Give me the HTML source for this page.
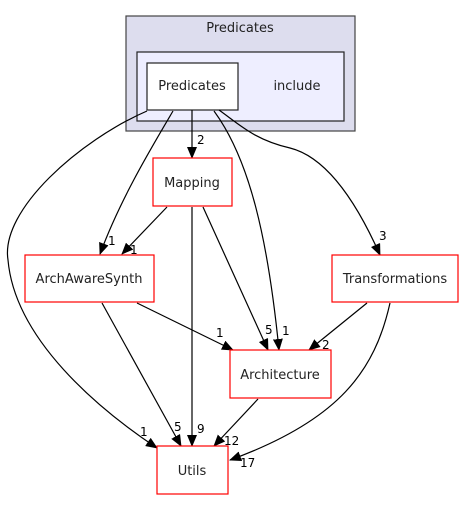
<!DOCTYPE html>
<html><head><meta charset="utf-8"><style>
html,body{margin:0;padding:0;background:#fff;}
text{font-family:"DejaVu Sans","Liberation Sans",sans-serif;}
</style></head><body>
<svg width="464" height="500" viewBox="0 0 464 500" xmlns="http://www.w3.org/2000/svg">
<defs><marker id="a" markerWidth="12" markerHeight="10" refX="11" refY="5" orient="auto" markerUnits="userSpaceOnUse"><path d="M0,0 L12,5 L0,10 z" fill="#000"/></marker></defs>
<rect x="126" y="16" width="229" height="115" fill="#ddddee" stroke="#444" stroke-width="1.2"/>
<text x="240" y="32" font-size="13" text-anchor="middle" fill="#222">Predicates</text>
<rect x="137" y="52" width="207" height="69" fill="#eeeeff" stroke="#222" stroke-width="1.2"/>
<text x="297" y="90" font-size="13" text-anchor="middle" fill="#222">include</text>
<rect x="147" y="63" width="91" height="47" fill="#fff" stroke="#222" stroke-width="1.2"/>
<text x="192" y="90" font-size="13" text-anchor="middle" fill="#222">Predicates</text>

<g fill="none" stroke="#000" stroke-width="1.2" marker-end="url(#a)">
<path d="M192,110 L192,158"/>
<path d="M173,111 C150,150 120,200 100,254"/>
<path d="M167,207 L122,254"/>
<path d="M147,111 C80,140 0,210 8,260 C15,340 100,410 157,448"/>
<path d="M214,111 C250,160 268,240 279,350"/>
<path d="M219,110 C240,125 255,140 290,148 C330,158 360,210 380,255"/>
<path d="M203,207 L268,350"/>
<path d="M192,207 L192,446"/>
<path d="M137,303 L233,350"/>
<path d="M102,303 L181,446"/>
<path d="M367,303 L309,350"/>
<path d="M390,303 C375,370 340,420 230,460"/>
<path d="M258,399 L214,446"/>
</g>

<g font-size="12" fill="#000">
<text x="197" y="144">2</text>
<text x="108" y="245">1</text>
<text x="130" y="254">1</text>
<text x="140" y="436">1</text>
<text x="282" y="335">1</text>
<text x="379" y="240">3</text>
<text x="265" y="334">5</text>
<text x="197" y="433">9</text>
<text x="216" y="337">1</text>
<text x="174" y="431">5</text>
<text x="322" y="349">2</text>
<text x="240" y="467">17</text>
<text x="224" y="445">12</text>
</g>

<g fill="#fff" stroke="#ff0000" stroke-width="1.2">
<rect x="153" y="158" width="79" height="48"/>
<rect x="25" y="255" width="129" height="47"/>
<rect x="332" y="255" width="126" height="47"/>
<rect x="230" y="350" width="101" height="48"/>
<rect x="157" y="446" width="71" height="48"/>
</g>
<g font-size="13" fill="#222" text-anchor="middle">
<text x="192" y="187">Mapping</text>
<text x="89" y="283">ArchAwareSynth</text>
<text x="395" y="283">Transformations</text>
<text x="280" y="379">Architecture</text>
<text x="192" y="475">Utils</text>
</g>
</svg>
</body></html>
